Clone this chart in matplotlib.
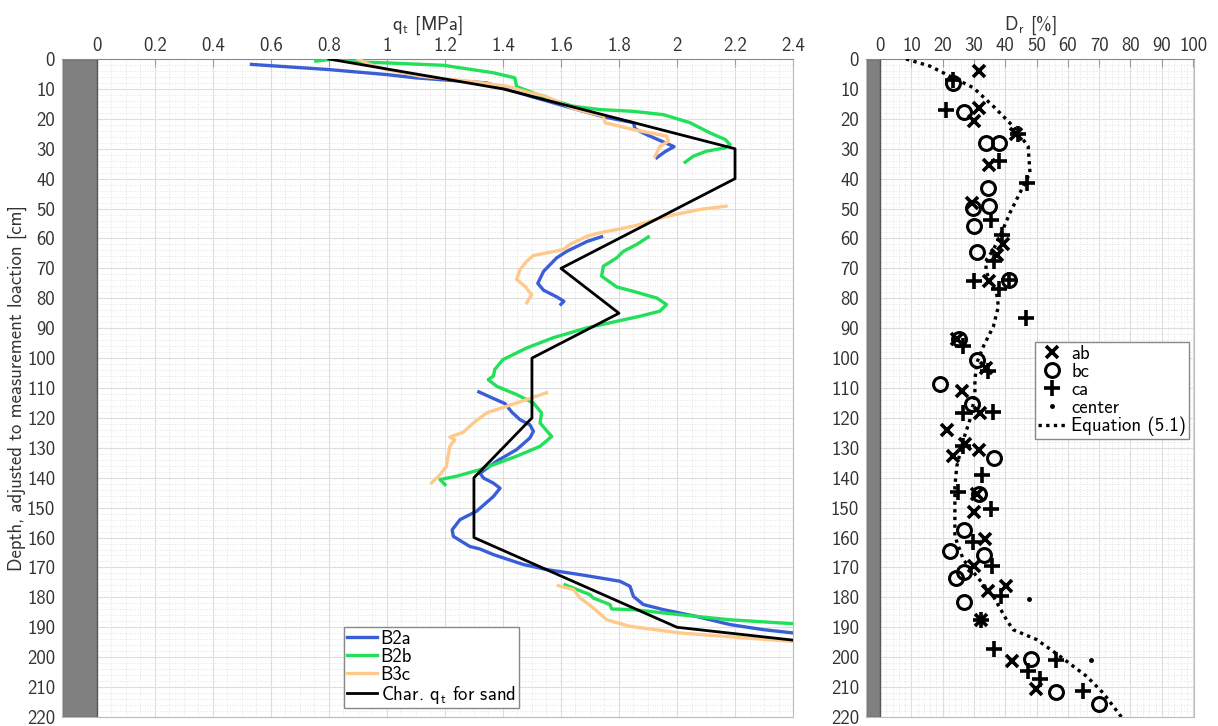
import numpy as np
import matplotlib

matplotlib.use("Agg")
import matplotlib.pyplot as plt
from matplotlib.ticker import MultipleLocator

nan = np.nan

# ---- left panel: cone resistance q_t [MPa] vs depth [cm]
b2a_qt = [0.533, 0.797, 0.999, 1.10, 1.344, 1.40, 1.50, 1.64, 1.75, 1.85, 1.855, 1.90, 1.95, 1.99, 1.96, 1.93, nan,
          1.74, 1.69, 1.62, 1.585, 1.54, 1.52, 1.54, 1.585, 1.61, 1.60, nan,
          1.317, 1.367, 1.407, 1.43, 1.459, 1.493, 1.505, 1.493, 1.447, 1.378, 1.321, 1.333, 1.367, 1.39, 1.367,
          1.309, 1.252, 1.225, 1.229, 1.286, 1.32, 1.367, 1.47, 1.55, 1.666, 1.803, 1.838, 1.85, 1.884, 1.953,
          2.068, 2.183, 2.298, 2.40]
b2a_depth = [1.8, 3.5, 5.2, 6.3, 8.0, 9.6, 12.6, 16.5, 19.4, 21.3, 23.3, 25.5, 27.6, 29.3, 30.9, 33.0, nan,
             59.4, 61.0, 64.3, 66.5, 71.0, 75.0, 77.3, 79.5, 81.0, 82.0, nan,
             111.3, 113.5, 115.2, 118.0, 120.6, 122.3, 124.5, 126.7, 130.6, 134.5, 138.5, 140.1, 141.8, 143.5, 146.3,
             151.2, 154.0, 157.4, 159.6, 163.0, 163.8, 165.7, 169.0, 170.7, 172.4, 174.6, 176.3, 179.7, 182.4, 184.1,
             186.4, 189.1, 190.8, 191.9]

b2b_qt = [0.755, 0.798, 0.86, 0.872, 0.999, 1.195, 1.367, 1.441, 1.447, 1.504, 1.562, 1.643, 1.734, 1.85, 1.953,
          2.045, 2.114, 2.166, 2.183, 2.166, 2.102, 2.056, 2.028, nan,
          1.901, 1.861, 1.815, 1.792, 1.746, 1.74, 1.792, 1.85, 1.93, 1.964, 1.941, 1.872, 1.792, 1.689, 1.573,
          1.482, 1.40, 1.372, 1.367, 1.349, 1.378, 1.447, 1.505, 1.533, 1.528, 1.568, 1.528, 1.447, 1.321, 1.24,
          1.183, 1.2, nan,
          1.614, 1.70, 1.711, 1.769, 1.775, 1.85, 2.01, 2.183, 2.40]
b2b_depth = [0.7, 0.2, 0.0, 0.9, 1.3, 2.1, 4.6, 6.3, 9.2, 11.3, 13.5, 15.8, 16.9, 17.5, 18.6,
             21.3, 24.7, 26.9, 28.6, 29.7, 30.8, 32.5, 34.5, nan,
             59.5, 62.0, 64.3, 66.5, 69.3, 72.6, 76.2, 77.7, 79.9, 82.1, 84.3, 86.0, 87.7, 89.9, 93.2,
             96.6, 100.5, 103.8, 106.0, 107.2, 109.4, 112.2, 115.0, 118.3, 121.7, 126.2, 129.5, 132.8, 137.3, 139.5,
             140.6, 142.3, nan,
             175.8, 179.1, 180.2, 182.4, 183.9, 184.1, 185.8, 187.5, 188.8]

b3c_qt = [0.901, 0.941, 0.999, 1.114, 1.298, 1.413, 1.493, 1.54, 1.643, 1.746, 1.752, 1.85, 1.965, 1.97, 1.941,
          1.93, 1.924, nan,
          2.169, 2.079, 1.964, 1.85, 1.734, 1.689, 1.631, 1.608, 1.505, 1.482, 1.459, 1.447, 1.476, 1.499, 1.482, nan,
          1.55, 1.447, 1.344, 1.298, 1.263, 1.217, 1.234, 1.217, 1.211, 1.205, 1.183, 1.154, nan,
          1.591, 1.643, 1.666, 1.711, 1.758, 1.838, 2.01, 2.24, 2.40]
b3c_depth = [0.0, 1.8, 3.5, 5.7, 7.6, 9.1, 11.3, 12.2, 16.6, 19.1, 21.3, 23.6, 25.8, 27.5, 29.2,
             31.4, 32.5, nan,
             49.2, 50.3, 52.6, 55.9, 58.1, 59.3, 62.0, 63.7, 65.7, 67.6, 70.4, 73.7, 76.0, 78.8, 81.5, nan,
             111.6, 115.0, 118.3, 121.7, 124.8, 126.4, 127.3, 129.5, 132.8, 136.2, 139.0, 141.7, nan,
             176.1, 177.4, 180.2, 183.5, 187.5, 189.7, 191.9, 193.6, 194.7]

char_qt = [0.8, 1.4, 2.2, 2.2, 1.6, 1.8, 1.5, 1.5, 1.3, 1.3, 2.0, 2.4]
char_depth = [0, 10, 30, 40, 70, 85, 100, 120, 140, 160, 190, 194.3]

# ---- right panel: relative density D_r [%] vs depth [cm]
ab_dr = [31.7, 31.7, 30.0, 43.5, 34.9, 29.3, 39.4, 37.5, 34.9, 24.7, 34.0, 26.2, 31.9, 21.3, 27.0, 31.7, 23.4,
         30.9, 30.0, 33.5, 30.0, 40.1, 34.6, 32.3, 42.2, 49.8]
ab_depth = [4.1, 16.3, 20.8, 25.0, 35.3, 48.3, 62.0, 65.5, 74.3, 93.6, 103.3, 111.1, 118.3, 123.9, 128.8, 130.8, 132.6,
            145.6, 151.4, 160.4, 169.4, 176.3, 178.0, 187.5, 201.2, 210.6]

bc_dr = [23.4, 26.9, 34.0, 38.0, 34.4, 34.9, 29.8, 30.0, 30.9, 41.3, 25.3, 30.9, 19.2, 29.3, 36.4, 31.7, 26.9,
         22.3, 33.2, 26.9, 24.3, 26.9, 48.1, 56.1, 70.0]
bc_depth = [8.0, 17.7, 28.0, 28.0, 43.1, 49.2, 49.8, 55.7, 64.6, 74.0, 93.6, 100.7, 108.5, 115.2, 133.5, 145.6, 157.4,
            164.6, 165.7, 171.5, 173.5, 181.7, 200.6, 211.6, 215.6]

ca_dr = [23.4, 21.1, 44.0, 38.1, 46.8, 35.4, 38.8, 36.5, 30.0, 38.1, 41.3, 46.6, 26.6, 34.6, 26.6, 36.0, 26.6,
         32.5, 24.8, 35.4, 29.8, 35.6, 38.5, 32.3, 36.4, 56.2, 47.3, 51.1, 64.7]
ca_depth = [6.9, 16.9, 25.0, 34.2, 41.4, 53.7, 58.7, 67.5, 74.3, 76.9, 74.0, 86.6, 95.8, 104.4, 118.3, 118.1, 129.3,
            139.0, 144.9, 150.4, 161.5, 169.4, 179.7, 187.5, 197.3, 200.8, 204.5, 207.4, 211.4]

center_dr = [47.5, 67.3]
center_depth = [180.4, 201.1]

eq_dr = [8.3, 16.0, 23.4, 29.8, 36.2, 42.5, 47.3, 47.9, 44.7, 41.5, 38.8, 36.2, 34.0, 33.8, 35.1, 37.2, 37.8, 36.2,
         33.0, 30.9, 30.3, 30.3, 28.7, 26.6, 24.5, 23.9, 23.9, 23.9, 26.6, 30.9, 36.2, 40.4, 42.5, 50.0, 57.5, 66.0,
         71.3, 77.1]
eq_depth = [0, 2.4, 6.3, 9.6, 15.8, 22.5, 29.2, 38.1, 44.7, 51.4, 58.1, 63.7, 67.1, 70.4, 74.8, 78.2, 82.7, 89.4,
            96.1, 101.6, 107.2, 112.8, 120.6, 127.3, 136.2, 142.9, 151.8, 159.6, 167.4, 173.0, 179.7, 187.5, 190.8,
            194.1, 199.7, 206.4, 212.0, 220]

depth_ticks = list(range(0, 221, 10))

plt.rcParams["font.family"] = ["cmss10", "DejaVu Sans"]
plt.rcParams["mathtext.fontset"] = "custom"
plt.rcParams["mathtext.rm"] = "cmss10"
plt.rcParams["mathtext.it"] = "cmss10"
plt.rcParams["mathtext.bf"] = "cmss10"
plt.rcParams["axes.unicode_minus"] = False

FS = 13.5


def style_axis(ax, xlim, xmajor, xminor, band_right):
    ax.set_xlim(*xlim)
    ax.set_ylim(220, 0)
    ax.axvspan(xlim[0], band_right, color="#808080", ec="#555555", lw=1, zorder=1)
    ax.xaxis.set_major_locator(MultipleLocator(xmajor))
    ax.xaxis.set_minor_locator(MultipleLocator(xminor))
    ax.xaxis.set_major_formatter(plt.FuncFormatter(lambda v, p: "" if v < -1e-9 else f"{v:g}"))
    ax.set_yticks(depth_ticks)
    ax.yaxis.set_minor_locator(MultipleLocator(2))
    ax.xaxis.tick_top()
    ax.xaxis.set_label_position("top")
    ax.grid(True, which="major", color="#dedede", lw=0.8, zorder=0)
    ax.grid(True, which="minor", color="#dadada", lw=0.6, ls=(0, (1, 2)), zorder=0)
    ax.set_axisbelow(True)
    ax.tick_params(axis="x", which="major", direction="in", length=6, color="#999999",
                   labelsize=FS, labelcolor="#333333", pad=3)
    ax.tick_params(axis="y", which="major", length=0, labelsize=FS, labelcolor="#333333", pad=5)
    ax.tick_params(which="minor", length=0)
    for side, sp in ax.spines.items():
        sp.set_color("#bbbbbb" if side != "top" else "#888888")
        sp.set_linewidth(0.8)


fig = plt.figure(figsize=(12.18, 7.26), dpi=100)
ax1 = fig.add_axes([0.0509, 0.0124, 0.6002, 0.9063])
ax2 = fig.add_axes([0.7110, 0.0124, 0.2693, 0.9063])

# left panel
style_axis(ax1, (-0.12, 2.4), 0.2, 0.05, 0)
ax1.plot(b2a_qt, b2a_depth, color="#3a5ed8", lw=2.4, label="B2a", zorder=3)
ax1.plot(b2b_qt, b2b_depth, color="#22e05a", lw=2.4, label="B2b", zorder=3)
ax1.plot(b3c_qt, b3c_depth, color="#ffc98c", lw=2.4, label="B3c", zorder=3)
ax1.plot(char_qt, char_depth, color="black", lw=2.0, label=r"Char. q$_\mathrm{t}$ for sand", zorder=4)
ax1.set_xlabel(r"q$_\mathrm{t}$ [MPa]", fontsize=FS, color="#333333", labelpad=5)
ax1.set_ylabel("Depth, adjusted to measurement loaction [cm]", fontsize=FS, color="#333333", labelpad=0)
ax1.legend(loc="lower left", bbox_to_anchor=(0.386, 0.013), fancybox=False, framealpha=1,
           edgecolor="#888888", fontsize=FS, handlelength=1.6, handletextpad=0.2,
           labelspacing=0.0, borderpad=0.15, borderaxespad=0)

# right panel
style_axis(ax2, (-4.5, 100.3), 10, 2, 0)
ax2.plot(ab_dr, ab_depth, ls="none", marker="x", ms=8, mew=2.6, color="black", label="ab", zorder=4)
ax2.plot(bc_dr, bc_depth, ls="none", marker="o", ms=10, mew=2.2, mfc="none", color="black", label="bc", zorder=4)
ax2.plot(ca_dr, ca_depth, ls="none", marker="+", ms=11, mew=2.6, color="black", label="ca", zorder=4)
ax2.plot(center_dr, center_depth, ls="none", marker=".", ms=5, color="black", label="center", zorder=4)
ax2.plot(eq_dr, eq_depth, color="black", lw=2.4, ls=(0, (1, 1.3)), label="Equation (5.1)", zorder=3)
ax2.set_xlabel(r"D$_\mathrm{r}$ [%]", fontsize=FS, color="#333333", labelpad=5)
ax2.legend(loc="upper left", bbox_to_anchor=(0.515, 0.57), fancybox=False, framealpha=1,
           edgecolor="#888888", fontsize=FS, handlelength=1.5, handletextpad=0.3,
           labelspacing=0.0, borderpad=0.15, borderaxespad=0)

fig.savefig("out.png", dpi=100)
